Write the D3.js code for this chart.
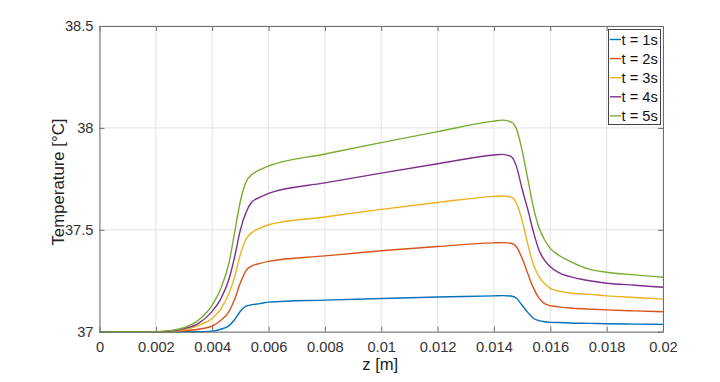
<!DOCTYPE html>
<html>
<head>
<meta charset="utf-8">
<script src="https://cdn.jsdelivr.net/npm/d3@7"></script>
<style>
  body { margin: 0; background: #fff; }
  text { font-family: "Liberation Sans", Arial, sans-serif; }
</style>
</head>
<body>
<div id="chart"></div>
<script>
// values
var zValues = [0, 0.002, 0.0025, 0.003, 0.0035, 0.004, 0.0043, 0.0046, 0.0048, 0.005, 0.0052, 0.0054, 0.0057,
  0.006, 0.008, 0.010, 0.012, 0.014, 0.0143, 0.0146,
  0.0148, 0.0150, 0.0152, 0.0154, 0.0156, 0.0158, 0.0160, 0.0163, 0.0167, 0.0174, 0.018, 0.019, 0.020];

var temp1s = [37, 37, 37, 37, 37, 37.003, 37.012, 37.03, 37.06, 37.10, 37.125, 37.132, 37.138,
  37.145, 37.155, 37.163, 37.17, 37.176, 37.177, 37.175,
  37.164, 37.13, 37.095, 37.066, 37.054, 37.049, 37.046, 37.045, 37.043, 37.041, 37.039, 37.037, 37.036];
var temp2s = [37, 37, 37, 37.004, 37.012, 37.028, 37.055, 37.10, 37.16, 37.24, 37.30, 37.322, 37.335,
  37.345, 37.372, 37.397, 37.418, 37.436, 37.437, 37.434,
  37.417, 37.36, 37.285, 37.215, 37.165, 37.138, 37.128, 37.122, 37.116, 37.111, 37.107, 37.102, 37.098];
var temp3s = [37, 37, 37.002, 37.01, 37.03, 37.066, 37.11, 37.19, 37.27, 37.38, 37.455, 37.485, 37.508,
  37.525, 37.563, 37.600, 37.634, 37.664, 37.666, 37.66,
  37.63, 37.545, 37.43, 37.33, 37.27, 37.235, 37.213, 37.199, 37.19, 37.183, 37.176, 37.168, 37.16];
var temp4s = [37, 37, 37.003, 37.015, 37.04, 37.10, 37.16, 37.26, 37.37, 37.50, 37.585, 37.635, 37.66,
  37.679, 37.73, 37.778, 37.824, 37.867, 37.870, 37.86,
  37.81, 37.70, 37.60, 37.49, 37.40, 37.35, 37.319, 37.29, 37.27, 37.25, 37.238, 37.228, 37.218];
var temp5s = [37, 37, 37.005, 37.02, 37.055, 37.13, 37.21, 37.34, 37.49, 37.64, 37.735, 37.77, 37.795,
  37.813, 37.872, 37.928, 37.982, 38.033, 38.038, 38.03,
  37.995, 37.89, 37.75, 37.61, 37.51, 37.45, 37.409, 37.375, 37.345, 37.306, 37.292, 37.279, 37.267];

var seriesNames = ["t = 1s", "t = 2s", "t = 3s", "t = 4s", "t = 5s"];
var seriesColors = ["#0072BD", "#D95319", "#EDB120", "#7E2F8E", "#77AC30"];
var allSeries = [temp1s, temp2s, temp3s, temp4s, temp5s];

var xTicks = [0, 0.002, 0.004, 0.006, 0.008, 0.01, 0.012, 0.014, 0.016, 0.018, 0.02];
var yTicks = [37, 37.5, 38, 38.5];

var width = 720, height = 382;
var plotLeft = 99.5, plotRight = 663, plotTop = 26, plotBottom = 331.7;

var svg = d3.select("#chart").append("svg")
  .attr("width", width).attr("height", height);

var x = d3.scaleLinear().domain([0, 0.02]).range([plotLeft, plotRight]);
var y = d3.scaleLinear().domain([37, 38.5]).range([plotBottom, plotTop]);

// grid
svg.append("g").selectAll("line").data(xTicks).enter().append("line")
  .attr("x1", function(d) { return x(d); }).attr("x2", function(d) { return x(d); })
  .attr("y1", plotTop).attr("y2", plotBottom)
  .attr("stroke", "#e3e3e3").attr("stroke-width", 1);
svg.append("g").selectAll("line").data(yTicks).enter().append("line")
  .attr("y1", function(d) { return y(d); }).attr("y2", function(d) { return y(d); })
  .attr("x1", plotLeft).attr("x2", plotRight)
  .attr("stroke", "#e3e3e3").attr("stroke-width", 1);

// lines
var line = d3.line()
  .x(function(d) { return x(d[0]); })
  .y(function(d) { return y(d[1]); })
  .curve(d3.curveMonotoneX);

svg.append("g").selectAll("path").data(allSeries).enter().append("path")
  .attr("d", function(vals) { return line(zValues.map(function(z, i) { return [z, vals[i]]; })); })
  .attr("fill", "none")
  .attr("stroke", function(d, i) { return seriesColors[i]; })
  .attr("stroke-width", 1.4);

// axes (box with inward ticks)
function styleAxis(g) {
  g.select(".domain").attr("stroke", "#6e6e6e");
  g.selectAll(".tick line").attr("stroke", "#6e6e6e");
  g.selectAll("text").attr("fill", "#333").style("font-size", "14.7px")
    .style("font-family", "'Liberation Sans', Arial, sans-serif");
}

var xAxis = svg.append("g").attr("transform", "translate(0," + plotBottom + ")")
  .call(d3.axisBottom(x).tickValues(xTicks).tickSizeInner(-5).tickSizeOuter(0).tickPadding(10)
    .tickFormat(function(d) { return d3.format("~g")(d); }));
styleAxis(xAxis);
var xAxisTop = svg.append("g").attr("transform", "translate(0," + plotTop + ")")
  .call(d3.axisTop(x).tickValues(xTicks).tickSizeInner(-5).tickSizeOuter(0).tickFormat(""));
styleAxis(xAxisTop);
var yAxis = svg.append("g").attr("transform", "translate(" + plotLeft + ",0)")
  .call(d3.axisLeft(y).tickValues(yTicks).tickSizeInner(-5).tickSizeOuter(0).tickPadding(6)
    .tickFormat(function(d) { return d3.format("~g")(d); }));
styleAxis(yAxis);
var yAxisRight = svg.append("g").attr("transform", "translate(" + plotRight + ",0)")
  .call(d3.axisRight(y).tickValues(yTicks).tickSizeInner(-5).tickSizeOuter(0).tickFormat(""));
styleAxis(yAxisRight);

// axis titles
svg.append("text")
  .attr("x", (plotLeft + plotRight) / 2 - 1).attr("y", 370)
  .attr("text-anchor", "middle").attr("fill", "#222").style("font-size", "16.6px")
  .text("z [m]");
svg.append("text")
  .attr("transform", "translate(64,182) rotate(-90)")
  .attr("text-anchor", "middle").attr("fill", "#222").style("font-size", "16.8px")
  .text("Temperature [°C]");

// legend
var legend = svg.append("g");
legend.append("rect")
  .attr("x", 608.5).attr("y", 29.5).attr("width", 52).attr("height", 95)
  .attr("fill", "#fff").attr("stroke", "#444").attr("stroke-width", 1);
seriesNames.forEach(function(name, i) {
  var ly = 39.5 + i * 19.1;
  legend.append("line")
    .attr("x1", 610).attr("x2", 621).attr("y1", ly).attr("y2", ly)
    .attr("stroke", seriesColors[i]).attr("stroke-width", 1.4);
  legend.append("text")
    .attr("x", 621.5).attr("y", ly + 5).attr("fill", "#111").style("font-size", "14.7px")
    .text(name);
});
</script>
</body>
</html>
